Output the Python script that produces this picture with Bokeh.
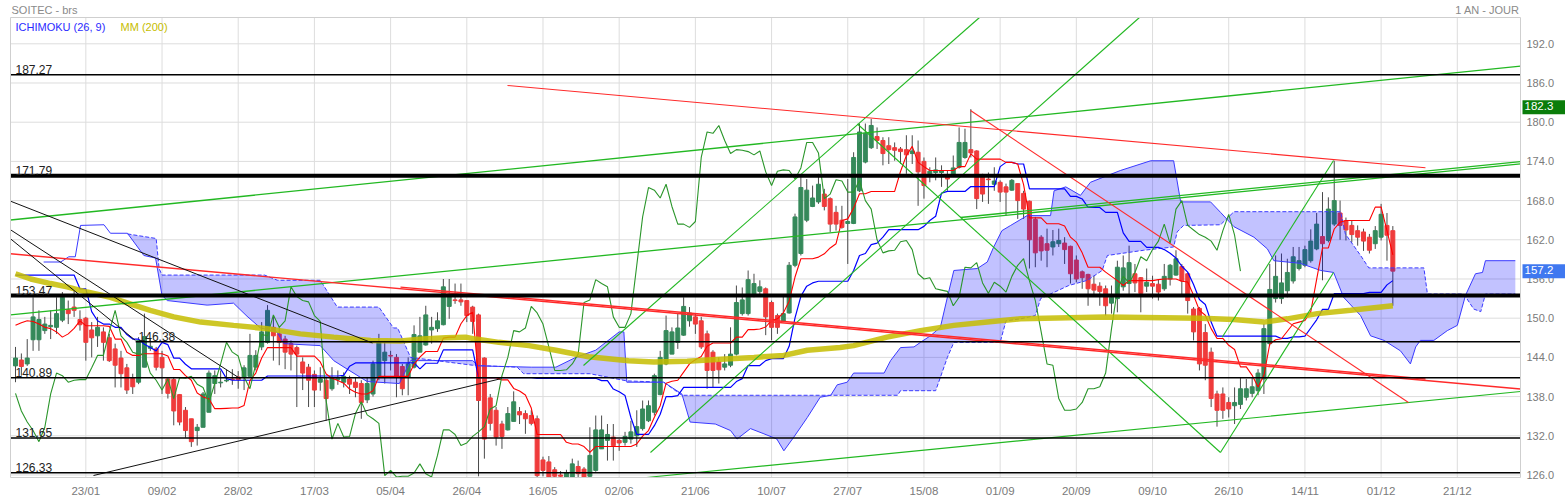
import numpy as np
from bokeh.plotting import figure
from bokeh.models import Range1d, Label
from bokeh.core.properties import value
from bokeh.embed import file_html
from bokeh.resources import INLINE

# ---------------- data ----------------
open_ = [142.7,143.6,143.0,146.7,146.7,148.1,148.7,148.6,149.7,151.3,151.7,149.8,150.0,148.2,147.3,147.9,147.0,145.3,143.9,142.4,
         140.8,140.2,142.5,145.4,145.3,144.0,140.7,140.6,138.3,135.9,134.6,132.8,133.3,135.6,140.0,140.1,140.4,140.7,141.0,141.0,
         141.1,142.5,145.6,146.3,148.6,147.6,146.8,146.1,145.5,143.3,142.5,141.4,140.2,140.5,139.2,140.6,140.2,140.7,140.2,140.0,
         137.5,138.4,141.0,143.5,144.3,144.0,142.6,141.0,142.5,144.8,145.9,148.2,148.4,149.0,151.8,152.8,152.8,152.7,151.7,150.5,
         143.9,137.8,135.9,133.8,132.9,134.2,135.7,135.4,135.1,134.6,128.3,128.0,126.8,126.0,125.7,125.7,127.3,126.9,125.8,126.7,
         130.0,131.3,131.8,131.3,131.0,131.5,132.0,133.1,134.3,135.6,138.3,143.0,144.5,146.3,147.4,149.6,150.2,149.6,147.6,144.8,
         143.3,142.5,142.8,144.5,150.7,150.7,153.6,154.1,154.5,152.4,150.4,149.5,150.8,158.1,159.9,165.0,167.1,167.8,169.0,168.3,
         166.2,165.0,164.5,164.5,169.5,173.9,176.1,177.8,177.2,176.4,176.1,175.9,175.8,175.2,175.4,174.0,172.1,172.3,172.3,171.9,
         171.8,173.1,174.6,175.8,175.6,172.0,171.3,170.5,170.8,170.1,169.6,170.6,169.1,167.9,165.1,162.4,161.4,160.9,161.4,161.5,
         161.0,158.9,157.1,156.7,155.2,154.9,154.5,152.3,153.0,154.8,155.3,156.8,156.2,154.9,155.3,155.2,154.5,156.0,156.6,157.9,
         156.8,151.4,151.5,147.8,144.8,138.4,138.4,137.1,136.6,136.8,137.9,138.5,138.9,140.7,146.1,153.0,153.0,154.2,155.7,157.6,
         158.1,158.8,160.6,162.5,161.9,164.4,166.1,164.9,164.2,163.4,163.2,162.4,161.4,162.4,164.2,163.4]
high = [145.6,144.6,146.8,153.2,151.2,150.2,151.2,153.2,154.0,152.7,154.2,151.2,150.2,149.4,150.2,148.6,147.6,146.1,145.0,143.0,
        141.5,147.1,150.7,146.8,145.6,145.0,140.8,141.0,138.4,136.4,134.6,133.8,138.7,142.0,142.0,142.0,142.1,142.2,141.9,142.8,
        147.6,145.1,149.4,152.0,150.2,148.6,147.3,146.6,145.8,144.0,143.0,142.0,142.5,141.0,142.5,142.0,141.7,141.2,141.0,140.5,
        141.0,143.5,147.6,146.3,145.0,144.5,143.0,144.0,148.9,150.2,151.9,150.2,150.9,156.0,156.0,155.3,155.3,152.7,151.9,150.7,
        144.0,138.4,136.4,134.3,136.4,138.8,136.4,135.9,135.9,135.1,128.8,128.9,127.2,126.6,126.8,128.5,128.2,127.2,133.3,135.1,
        135.1,133.8,133.8,131.5,132.6,134.3,135.9,137.4,137.4,141.5,145.0,150.4,148.6,150.7,153.2,151.7,150.7,150.2,148.1,145.1,
        144.0,144.5,148.6,155.0,154.7,157.3,156.8,155.8,154.7,152.7,150.7,153.5,158.6,166.0,171.6,171.3,170.3,172.1,169.8,168.5,
        167.2,167.2,171.3,175.4,179.8,179.8,180.5,179.2,177.7,177.7,176.9,176.2,178.0,178.0,177.2,174.6,173.1,174.6,173.4,172.6,
        174.9,179.2,179.0,182.0,175.7,172.1,172.3,173.1,171.1,170.6,171.3,170.6,169.5,168.0,165.5,162.7,163.7,163.5,163.7,162.4,
        161.1,159.6,157.3,156.8,156.5,155.5,155.0,155.0,158.8,159.6,161.1,158.3,156.3,157.6,156.5,156.0,158.3,158.3,160.4,158.3,
        157.0,151.7,151.7,149.1,145.5,138.9,139.4,137.9,139.4,140.9,140.7,140.9,142.2,149.1,158.3,159.6,159.9,159.1,160.9,160.9,
        161.1,163.6,166.1,169.3,168.5,174.1,168.0,165.4,164.9,164.2,163.7,162.9,164.1,167.5,166.1,164.1]
low = [140.2,141.2,142.7,145.0,145.0,147.6,146.8,147.6,149.4,149.1,150.2,148.1,143.5,144.0,145.6,143.5,143.3,139.4,139.4,138.4,
       138.4,139.9,142.5,145.0,142.0,138.4,137.7,133.6,133.6,131.7,130.3,130.5,133.3,135.6,138.4,139.4,140.2,139.8,139.2,139.0,
       141.0,142.0,145.1,146.1,143.5,142.8,142.2,142.0,136.4,139.0,136.4,136.4,138.9,134.3,138.9,139.8,139.4,138.4,137.9,134.6,
       137.0,138.0,140.5,140.0,142.0,137.9,138.2,138.2,142.3,144.8,145.8,146.1,147.9,148.9,149.9,152.2,151.9,149.4,147.6,125.8,
       128.5,132.8,130.5,130.0,132.8,134.2,133.8,132.3,133.6,125.6,125.8,125.6,125.6,125.6,125.6,125.6,125.6,125.6,125.6,126.5,
       130.0,128.2,128.2,129.7,130.5,130.8,130.3,132.8,134.1,135.1,138.2,142.8,144.5,145.3,147.3,148.7,147.6,145.3,139.2,139.4,
       140.0,142.0,142.5,144.3,150.4,150.4,153.2,153.7,147.4,146.6,147.6,149.4,150.7,157.8,159.6,164.7,167.0,167.5,166.5,163.2,
       163.4,163.7,158.3,164.4,169.3,173.7,175.9,175.9,173.4,173.6,174.1,173.6,172.1,173.6,167.2,168.3,170.8,171.1,170.1,169.5,
       171.6,172.9,174.4,174.6,166.7,167.8,167.5,169.5,167.8,165.7,169.5,165.2,165.2,157.6,157.8,158.8,157.8,159.6,160.9,158.3,
       155.3,155.5,154.5,151.9,153.7,151.9,150.4,150.7,150.9,154.2,153.7,154.0,150.9,154.0,153.0,152.7,154.2,155.0,156.5,153.7,
       150.7,146.6,142.0,140.5,136.4,133.4,134.6,134.8,133.8,136.1,137.4,137.9,138.2,138.4,145.8,152.4,152.2,153.2,155.3,157.3,
       157.8,158.5,160.4,155.8,161.6,164.1,162.0,161.9,161.6,161.1,160.3,159.9,160.6,161.9,158.8,151.9]
close = [143.9,142.6,143.9,150.2,149.8,149.1,148.9,150.7,153.2,150.7,151.2,149.0,146.3,147.0,148.6,146.3,143.5,142.8,141.5,139.0,
         139.5,146.6,147.2,145.7,142.5,142.4,138.5,135.8,134.1,132.8,131.1,133.3,138.4,141.6,141.2,140.2,140.5,140.6,140.6,142.4,
         144.3,144.3,147.9,151.2,147.3,146.3,144.8,144.5,144.5,141.6,140.5,139.0,140.7,137.7,140.9,140.8,141.1,139.9,139.4,137.1,
         140.0,143.0,146.3,144.8,144.2,141.0,139.2,143.0,147.5,147.3,150.5,148.6,149.6,154.8,153.3,152.7,152.5,150.4,149.5,137.4,
         131.5,133.9,131.8,131.9,135.4,137.2,135.2,134.6,133.9,125.9,126.7,125.7,125.8,125.8,126.3,127.7,126.2,125.7,129.0,132.9,
         132.9,132.2,130.5,130.9,131.9,132.6,133.4,136.1,136.6,141.2,144.0,148.1,147.9,148.5,151.8,150.8,149.1,145.6,142.0,142.0,
         142.1,143.0,144.5,152.4,152.8,155.9,155.3,154.8,150.2,148.6,148.6,150.7,158.1,165.5,170.0,169.6,168.4,170.5,167.1,164.4,
         164.4,163.9,164.8,174.6,178.5,178.3,179.5,177.2,175.2,175.8,175.7,175.5,175.0,175.6,172.4,170.3,172.5,172.7,172.6,171.3,
         173.0,176.9,176.9,175.3,168.3,169.0,171.2,171.0,169.3,169.3,171.1,168.0,166.7,162.0,160.0,160.3,160.4,161.7,161.9,160.5,
         156.8,156.0,156.2,154.5,154.3,154.1,151.9,153.2,157.8,157.7,158.5,155.4,153.8,155.5,154.9,154.0,156.4,158.1,159.1,155.7,
         152.7,147.9,143.0,142.8,137.7,135.9,135.9,136.1,137.1,139.2,139.2,139.5,141.6,148.4,154.4,156.4,155.4,157.0,159.4,158.8,
         160.5,161.8,164.4,161.4,166.7,168.0,164.2,163.5,162.8,162.4,161.8,160.4,163.4,165.9,162.7,157.2]

# Ichimoku lines before enough history exists
tenkan_start = [148.9, 149.3, 149.6, 149.5, 149.1, 148.6, 148.4, 147.9]
kijun_start = [156.6, 156.6, 156.6, 156.6, 156.6, 156.6, 156.6, 156.6, 156.6, 156.6, 156.6, 154.5, 154.5,
               151.0, 149.6, 149.1, 149.1, 148.6, 148.6, 147.5, 146.8, 146.8, 146.0, 145.5, 145.0]

# Senkou span A (solid) and B (dashed), read as break points (bar index, price)
ssa_x = [4.8,7.7,9.1,10.2,11.1,15.1,16.2,19.1,21.9,23.9,25.0,25.9,32.7,37.2,39.5,41.8,44.6,45.8,52.0,54.3,56.6,60.0,65.5,
         67.4,78.0,79.0,88.0,92.2,95.6,99.0,103.0,103.8,104.3,110.6,113.7,115.1,119.4,122.0,123.1,125.4,127.7,129.9,131.1,
         132.8,135.1,137.3,139.1,140.2,141.9,143.0,148.2,149.3,151.0,153.3,154.4,156.1,157.8,159.0,160.1,164.1,165.8,166.9,
         168.3,169.8,172.6,176.6,177.2,179.2,181.7,183.4,188.5,193.7,197.6,198.8,203.9,205.6,207.9,211.3,213.6,214.7,219.2,
         222.7,224.9,226.6,229.5,231.2,233.5,236.3,238.0,238.9,239.7,242.0,244.3,246.0,247.4,249.1,250.3,250.8,255.9]
ssa_y = [158.6,158.6,159.4,159.4,164.2,164.3,163.0,163.0,159.6,159.2,153.5,152.7,152.0,152.3,150.3,148.5,147.9,146.1,145.8,
         143.5,142.2,140.3,140.0,143.5,143.5,142.7,142.5,142.5,144.0,145.1,147.9,147.9,140.2,140.2,138.4,134.1,133.8,132.8,
         131.5,133.1,132.3,131.5,129.7,131.8,134.8,137.9,138.2,139.8,140.2,141.6,141.6,143.5,145.5,145.6,146.3,147.3,148.6,
         153.2,157.3,157.6,158.6,160.9,163.4,164.2,165.7,165.7,169.5,170.1,168.8,170.8,172.6,174.1,174.1,167.8,167.8,166.2,
         164.0,162.4,160.6,158.8,158.4,157.3,157.0,153.2,150.4,147.3,146.6,145.0,143.0,145.6,146.6,146.6,148.1,148.9,153.5,
         156.8,157.0,158.8,158.8]
ssb_x = [19.1,24.0,24.5,25.0,42.5,44.7,52.0,54.9,62.0,64.5,65.2,67.4,78.0,85.6,86.7,98.0,104.3,110.6,113.7,150.5,151.0,157.0,
         159.0,160.1,168.0,169.0,171.5,174.0,174.9,179.7,182.9,185.4,186.3,192.5,197.6,198.2,199.3,205.6,207.9,226.1,226.9,
         229.5,230.9,240.3,240.9,247.1,248.8,250.0,250.8,255.9]
ssb_y = [162.9,162.2,157.6,156.6,156.6,155.8,155.8,151.7,151.7,148.5,148.5,144.0,142.8,142.5,141.5,141.5,140.4,140.2,138.2,
         138.2,138.9,138.9,144.0,146.3,146.3,149.6,149.9,150.4,153.0,155.0,155.8,157.3,159.6,160.4,160.9,163.2,164.2,164.3,
         166.3,166.3,162.9,159.6,157.7,157.7,153.7,153.7,151.4,151.0,153.7,153.7]

# Moving average 200 (read)
mm_x = [0,2.6,6,8.8,12.2,16.2,20.2,23,27,31.6,37.2,42.9,48.6,54.3,60.6,65.7,69.5,73.4,76.8,78.5,82.5,87.6,92.2,97.8,104.6,
        108.9,114.6,120.3,126,131.1,135.1,140.7,143,148.7,154.4,160.1,165.8,171.5,186,202.2,207.9,213,217,222.1,227.8,235]
mm_y = [156.8,156.0,155.3,154.8,154.0,153.2,152.0,151.2,150.2,149.4,148.9,148.4,147.6,147.1,146.6,146.5,146.8,147.0,147.1,
        146.8,146.3,145.8,145.1,144.1,143.5,143.3,143.4,143.7,144.0,144.3,145.1,145.5,145.8,147.1,148.1,148.9,149.4,149.9,
        150.2,150.0,149.8,149.4,149.9,150.7,151.2,151.9]

# Horizontal levels
levels = [187.27, 171.79, 153.47, 146.38, 140.89, 131.65, 126.33]
level_widths = [1.5, 4, 4, 1.5, 1.5, 1.5, 1.5]
level_from = [-0.853, -0.853, -0.853, 20.5, -0.853, -0.853, -0.853]
level_label_x = [0.0, 0.0, 0.0, 21.0, 0.0, 0.0, 0.0]

# Trend lines (bar index, price) end points
green_x0 = [-0.853, -0.853, 161.23, 96.91, 108.34, 143.66, 205.89, 205.59, 107.66]
green_y0 = [165.03, 150.52, 165.41, 142.76, 129.44, 179.72, 147.09, 129.44, 125.62]
green_x1 = [256.78, 256.78, 256.78, 164.48, 191.77, 205.59, 224.88, 224.88, 256.78]
green_y1 = [188.57, 173.63, 173.98, 196.03, 196.03, 129.44, 174.14, 157.00, 138.78]
green_w = [1.3, 1.3, 1.3, 1.1, 1.1, 1.1, 1.1, 1.1, 1.1]
red_x0 = [83.94, -0.853, 65.69, 162.94]
red_y0 = [185.62, 159.86, 154.75, 181.79]
red_x1 = [240.57, 256.78, 240.57, 237.67]
red_y1 = [173.02, 139.16, 140.69, 137.10]
red_w = [1.1, 1.4, 1.4, 1.1]
black_x0 = [-0.853, -0.853, -0.853, 13.31]
black_y0 = [167.91, 163.53, 162.15, 125.92]
black_x1 = [60.91, 38.39, 20.47, 82.75]
black_y1 = [146.20, 140.72, 146.59, 140.72]

tick_labels = ["23/01", "09/02", "28/02", "17/03", "05/04", "26/04", "16/05", "02/06", "21/06", "10/07",
               "27/07", "15/08", "01/09", "20/09", "09/10", "26/10", "14/11", "01/12", "21/12"]
y_ticks = [126, 132, 138, 144, 150, 156, 162, 168, 174, 180, 186, 192]
last_price = 157.2
ref_price = 182.3

# ---------------- layout: pixel <-> data mapping of the reference ----------------
X0, DX = 15.0, 5.861        # px of bar 0, px per bar
Y192, DY = 43.3, 6.533      # px of price 192, px per unit
W, H = 1565, 500
PL, PR, PT, PB = 10, 1520, 17, 477   # plot area in px


def kx(px):
    return (px - X0) / DX


def vy(py):
    return 192 - (py - Y192) / DY


# ---------------- derived ----------------
o = np.array(open_); h = np.array(high); l = np.array(low); c = np.array(close)
n = len(c)
idx = np.arange(n)
tenkan = list(tenkan_start) + [(h[i-8:i+1].max() + l[i-8:i+1].min()) / 2 for i in range(8, n)]
kijun = list(kijun_start) + [(h[i-25:i+1].max() + l[i-25:i+1].min()) / 2 for i in range(25, n)]
chik_x = idx[26:] - 26
chik_y = c[26:]

FONT = "Liberation Sans"
p = figure(width=W, height=H, title=None,
           x_range=Range1d(kx(0), kx(W)), y_range=Range1d(vy(H), vy(0)),
           x_axis_location=None, y_axis_location=None,
           output_backend="svg", toolbar_location=None, min_border=0)
p.background_fill_color = "white"
p.border_fill_color = "white"
p.outline_line_color = None
p.xgrid.visible = False
p.ygrid.visible = False

xl, xr, yt, yb = kx(PL), kx(PR), vy(PT), vy(PB)
tick_pos = [12 + 13 * j for j in range(len(tick_labels))]

# grid
p.segment([xl] * len(y_ticks), y_ticks, [xr] * len(y_ticks), y_ticks, color="#dddddd", line_width=1)
p.segment(tick_pos, [yb] * len(tick_pos), tick_pos, [yt] * len(tick_pos), color="#dddddd", line_width=1)

# candles
up = c >= o
p.segment(idx, l, idx, h, color="#4a4a4a", line_width=1)
p.vbar(x=idx[up], width=0.68, top=c[up], bottom=o[up], fill_color="#35895a", line_color="#35895a")
p.vbar(x=idx[~up], width=0.68, top=o[~up], bottom=c[~up], fill_color="#ef3b3b", line_color="#ef3b3b")

# cloud
sx = [x for x in ssa_x if x >= ssb_x[0]]
sy = [y for x, y in zip(ssa_x, ssa_y) if x >= ssb_x[0]]
p.patch(sx + ssb_x[::-1], sy + ssb_y[::-1], fill_color="#0000ff", fill_alpha=0.24, line_color=None)
p.line(ssa_x, ssa_y, color="#3a3aff", line_width=1)
p.line(ssb_x, ssb_y, color="#3a3aff", line_width=1, line_dash="4 2")

# ichimoku lines
p.line(idx, kijun, color="#0000ff", line_width=1.2)
p.line(idx, tenkan, color="#ff0000", line_width=1.1)
p.line(chik_x, chik_y, color="#2b962b", line_width=1.1)

# moving average
p.line(mm_x, mm_y, color="#c6bd00", line_width=5.5, line_alpha=0.85)

# trend lines
p.segment(green_x0, green_y0, green_x1, green_y1, color="#22b822", line_width=green_w)
p.segment(red_x0, red_y0, red_x1, red_y1, color="#ff2a2a", line_width=red_w)
p.segment(black_x0, black_y0, black_x1, black_y1, color="#111111", line_width=1)

# horizontal levels
p.segment(level_from, levels, [xr] * len(levels), levels, color="black", line_width=level_widths)
p.text(x=level_label_x, y=levels, text=["%.2f" % lv for lv in levels], text_font=value(FONT),
       text_font_size="12px", text_color="#222222", text_baseline="bottom", y_offset=-1)

# plot area border
p.segment([xl, xr, xl, xl], [yb, yb, yt, yb], [xr, xr, xr, xl], [yb, yt, yt, yt], color="#cfcfcf", line_width=1)

# axis tick labels (price scale on the right, dates below)
p.text(x=[kx(PR + 6)] * len(y_ticks), y=y_ticks, text=["%.1f" % t for t in y_ticks], text_font=value(FONT),
       text_font_size="11px", text_color="#7a7a7a", text_baseline="middle", text_align="left")
p.text(x=tick_pos, y=[vy(490)] * len(tick_pos), text=tick_labels, text_font=value(FONT),
       text_font_size="11.5px", text_color="#7a7a7a", text_baseline="middle", text_align="center")

# titles and legend texts
p.add_layout(Label(x=kx(11), y=vy(9), text="SOITEC - brs", text_font=FONT, text_font_size="11px",
                   text_color="#8a8a8a", text_baseline="middle"))
p.add_layout(Label(x=kx(1519), y=vy(9), text="1 AN - JOUR", text_font=FONT, text_font_size="11px",
                   text_color="#8a8a8a", text_baseline="middle", text_align="right"))
p.add_layout(Label(x=kx(15), y=vy(26), text="ICHIMOKU (26, 9)", text_font=FONT, text_font_size="11px",
                   text_color="#2b2bff", text_baseline="middle"))
p.add_layout(Label(x=kx(120), y=vy(26), text="MM (200)", text_font=FONT, text_font_size="11px",
                   text_color="#c6bd00", text_baseline="middle"))

# price boxes on the scale
p.add_layout(Label(x=kx(1522), y=ref_price, text="%.1f" % ref_price, text_font=FONT, text_font_size="11.5px",
                   text_color="white", text_baseline="middle", background_fill_color="#0a7d0a",
                   padding=(2, 12, 2, 4)))
p.add_layout(Label(x=kx(1522), y=last_price, text="%.1f" % last_price, text_font=FONT, text_font_size="11.5px",
                   text_color="white", text_baseline="middle", background_fill_color="#3f78f0",
                   padding=(2, 12, 2, 4)))

open("out.html", "w").write(file_html(p, INLINE))
